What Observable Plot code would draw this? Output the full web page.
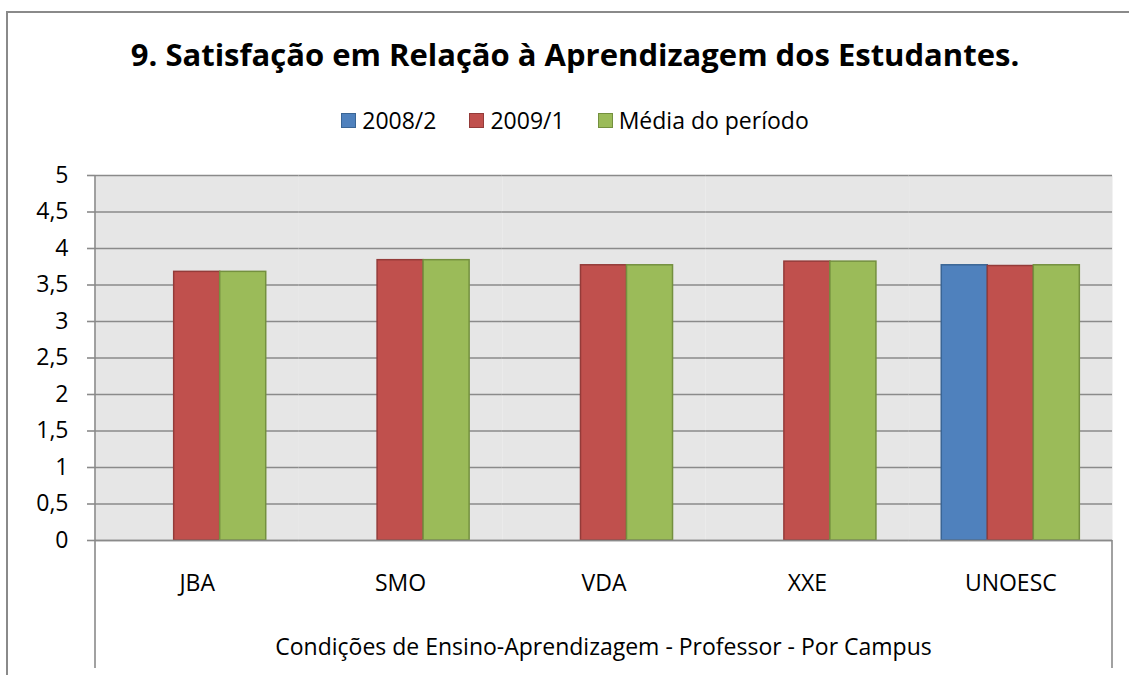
<!DOCTYPE html>
<html>
<head>
<meta charset="utf-8">
<script src="https://cdn.jsdelivr.net/npm/d3@7"></script>
<script src="https://cdn.jsdelivr.net/npm/@observablehq/plot@0.6"></script>
<style>
  html, body { margin: 0; padding: 0; background: #fff; }
  #wrap { position: relative; width: 1129px; height: 675px; overflow: hidden; font-family: "Open Sans", sans-serif; color: #000; }
  #border { position: absolute; left: 6px; top: 11px; width: 1300px; height: 900px; border: 2px solid #8a8a8a; box-sizing: border-box; }
  #title { position: absolute; left: 7px; width: 1136px; top: 33px; text-align: center; font-weight: bold; font-size: 31px; line-height: normal; white-space: nowrap; }
  #legend { position: absolute; left: 7px; width: 1136px; top: 104px; display: flex; justify-content: center; gap: 33px; font-size: 23px; line-height: normal; white-space: nowrap; }
  #legend .item { display: flex; align-items: center; }
  #legend .sw { width: 15px; height: 15px; box-sizing: border-box; border: 1.5px solid; margin-right: 6px; }
  #caption { position: absolute; left: 95px; width: 1017px; top: 630px; text-align: center; font-size: 23px; line-height: normal; white-space: nowrap; }
  #chart { position: absolute; left: 0; top: 0; }
</style>
</head>
<body>
<div id="wrap">
  <div id="border"></div>
  <div id="chart"></div>
  <div id="title"></div>
  <div id="legend"></div>
  <div id="caption"></div>
</div>
<script>
// ---- data ----
const titleText = "9. Satisfação em Relação à Aprendizagem dos Estudantes.";
const captionText = "Condições de Ensino-Aprendizagem - Professor - Por Campus";
const campuses = ["JBA", "SMO", "VDA", "XXE", "UNOESC"];
const seriesNames = ["2008/2", "2009/1", "Média do período"];
const s2008_2 = [null, null, null, null, 3.77];
const s2009_1 = [3.68, 3.84, 3.77, 3.82, 3.76];
const sMedia  = [3.68, 3.84, 3.77, 3.82, 3.77];
const yTicks = [0, 0.5, 1, 1.5, 2, 2.5, 3, 3.5, 4, 4.5, 5];
const fills   = ["#4f81bd", "#c0504d", "#9bbb59"];
const strokes = ["#3a6595", "#943b39", "#74903f"];

const seriesValues = [s2008_2, s2009_1, sMedia];
const rows = seriesNames.map((s, i) =>
  campuses.map((c, j) => ({campus: c, series: s, value: seriesValues[i][j]}))
    .filter(d => d.value != null)
);

document.getElementById("title").textContent = titleText;
document.getElementById("caption").textContent = captionText;
const legend = document.getElementById("legend");
seriesNames.forEach((s, i) => {
  const it = document.createElement("div");
  it.className = "item";
  const sw = document.createElement("div");
  sw.className = "sw";
  sw.style.background = fills[i];
  sw.style.borderColor = strokes[i];
  const tx = document.createElement("span");
  tx.textContent = s;
  it.appendChild(sw); it.appendChild(tx);
  legend.appendChild(it);
});

const gridColor = "#8a8a8a";
const fmt = d => String(d).replace(".", ",");

const chart = Plot.plot({
  width: 1129,
  height: 675,
  marginTop: 175,
  marginBottom: 135,
  marginLeft: 95,
  marginRight: 17,
  style: {fontFamily: "Open Sans", fontSize: "23px", color: "#000", background: "transparent", overflow: "visible"},
  fx: {domain: campuses, padding: 0, round: false, label: null, axis: "bottom", tickSize: 0, tickPadding: 34},
  x: {domain: seriesNames, paddingInner: 0, paddingOuter: 0.71, round: false, axis: null},
  y: {domain: [0, 5], label: null, axis: null},
  marks: [
    Plot.frame({fill: "#e6e6e6", stroke: null}),
    Plot.gridY(yTicks, {stroke: gridColor, strokeOpacity: 1, strokeWidth: 1.6}),
    ...rows.map((r, i) => Plot.barY(r, {fx: "campus", x: "series", y: "value", fill: fills[i], stroke: strokes[i], strokeWidth: 1.5, inset: 0})),
    Plot.ruleY([0], {stroke: gridColor, strokeWidth: 1.6}),
    Plot.axisY(yTicks, {tickFormat: fmt, tickSize: 8, tickPadding: 19, stroke: gridColor, strokeWidth: 1.6, fontSize: 23, label: null})
  ]
});
document.getElementById("chart").appendChild(chart);

// category box lines (left axis line continuing down, right closing line)
const fxS = chart.scale("fx"), yS = chart.scale("y");
const [xl, xr] = [fxS.range[0], fxS.range[1]];
const yTop = yS.apply(5), yZero = yS.apply(0);
const boxBottom = 668;
const svg = d3.select(chart);
svg.append("line").attr("x1", xl).attr("x2", xl).attr("y1", yTop).attr("y2", boxBottom)
  .attr("stroke", gridColor).attr("stroke-width", 1.6);
svg.append("line").attr("x1", xr).attr("x2", xr).attr("y1", yZero).attr("y2", boxBottom)
  .attr("stroke", gridColor).attr("stroke-width", 1.6);
</script>
</body>
</html>
